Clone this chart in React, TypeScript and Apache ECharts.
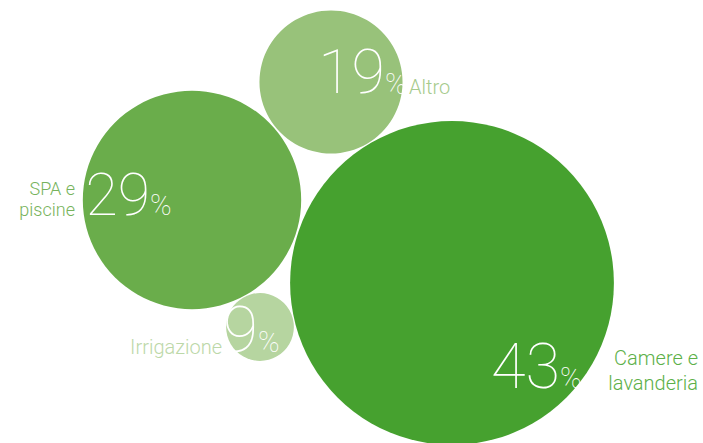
import React, { useEffect, useRef } from "react";
import * as echarts from "echarts";

const categories = ["Camere e\nlavanderia", "SPA e\npiscine", "Altro", "Irrigazione"];
const values = [43, 29, 19, 9];
const colors = ["#46a12f", "#6aad4b", "#98c27a", "#b6d5a0"];
const labelColors = ["#5cb048", "#77b35c", "#a6cb8d", "#bcd8a8"];

// layout (pixel positions of bubble centres)
const bubbleX = [452, 192, 331, 260];
const bubbleY = [283, 200, 82, 327];
const pxPerUnit = 7.53; // diameter per percentage point

// text layout: percent-sign left x / number center y, percent center y, label anchor
const pctX = [560, 150, 385, 258];
const numY = [366, 194, 72, 330];
const numSize = [63, 59, 61, 64];
const pctY = [378, 205, 84, 342];
// label: x, first-line center y, align, line spacing, font size
const catPos: any[] = [
  [698, 358, "right", 25, 20],
  [75, 188, "right", 21, 18],
  [409, 87, "left", 20, 20],
  [222, 347, "right", 20, 20],
];

export default function App() {
  const ref = useRef<HTMLDivElement>(null);
  useEffect(() => {
    document.body.style.margin = "0";
    const chart = echarts.init(ref.current!, null, { renderer: "svg" });
    const graphic: any[] = [];
    values.forEach((v, i) => {
      graphic.push({
        type: "text",
        z: 100,
        style: {
          text: String(v),
          x: pctX[i],
          y: numY[i],
          fill: "#ffffff",
          fontSize: numSize[i],
          fontFamily: "Roboto",
          fontWeight: 100,
          align: "right",
          verticalAlign: "middle",
        },
      });
      graphic.push({
        type: "text",
        z: 100,
        style: {
          text: "%",
          x: pctX[i],
          y: pctY[i],
          fill: "#ffffff",
          fontSize: 29,
          fontFamily: "Roboto",
          fontWeight: 100,
          align: "left",
          verticalAlign: "middle",
        },
      });
      const cp = catPos[i];
      categories[i].split("\n").forEach((line, j) => {
        graphic.push({
          type: "text",
          z: 100,
          style: {
            text: line,
            x: cp[0],
            y: cp[1] + j * cp[3],
            fill: labelColors[i],
            fontSize: cp[4],
            fontFamily: "Roboto",
            fontWeight: 300,
            align: cp[2],
            verticalAlign: "middle",
          },
        });
      });
    });
    chart.setOption({
      animation: false,
      grid: { left: 0, right: 0, top: 0, bottom: 0 },
      xAxis: { type: "value", min: 0, max: 703, show: false },
      yAxis: { type: "value", min: 0, max: 443, inverse: true, show: false },
      series: [
        {
          type: "scatter",
          silent: true,
          data: values.map((v, i) => ({
            name: categories[i],
            value: [bubbleX[i], bubbleY[i], v],
            symbolSize: v * pxPerUnit,
            itemStyle: { color: colors[i], opacity: 1 },
          })),
          label: { show: false },
        },
      ],
      graphic,
    });
    return () => chart.dispose();
  }, []);
  return <div ref={ref} style={{ width: 703, height: 443 }} />;
}
